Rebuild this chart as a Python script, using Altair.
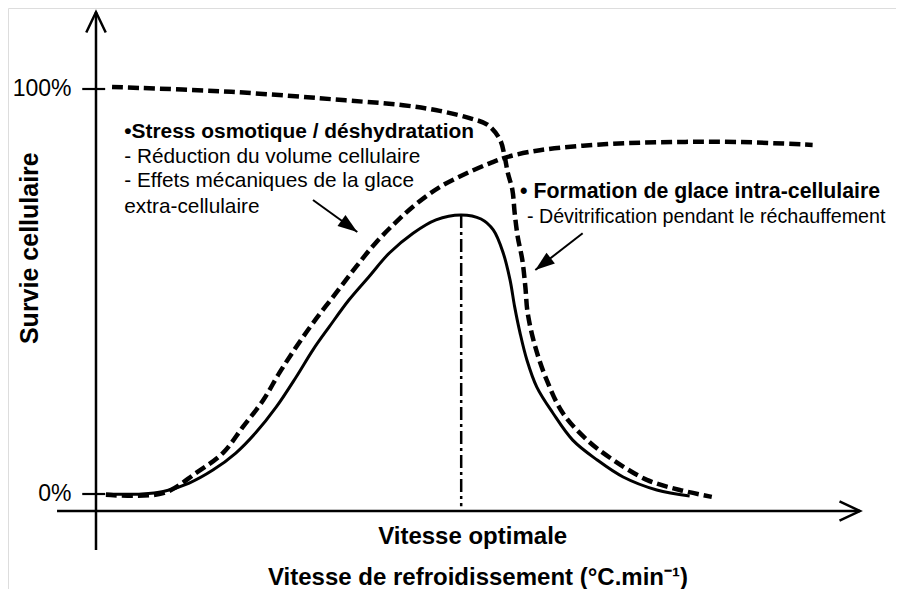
import math
import altair as alt
import pandas as pd

# ---- data (x: cooling rate, arbitrary units 0-100 ; y: cell survival %) ----
solid_x = [1.3, 6.0, 8.8, 12.2, 15.3, 18.3, 20.9, 23.6, 26.2, 28.4, 30.5, 33.1, 35.7, 38.4, 41.5,
           44.5, 47.8, 50.4, 52.0, 53.3, 54.2, 54.8, 55.5, 56.4, 57.7, 59.8, 62.4, 65.6, 69.0,
           73.4, 77.7]
solid_y = [0.0, 0.0, 0.6, 2.7, 5.9, 10.1, 15.1, 21.5, 28.9, 35.6, 41.2, 47.9, 53.6, 59.5, 64.4,
           67.7, 68.9, 67.9, 65.2, 59.5, 52.8, 46.2, 39.8, 33.1, 26.4, 20.0, 13.3, 8.4, 4.2,
           1.0, -0.5]

rise_x = [1.3, 8.8, 13.1, 16.6, 19.2, 21.9, 24.0, 26.2, 28.4, 31.4, 34.0, 36.6, 39.3, 41.9,
          45.0, 48.3, 51.6, 53.8, 58.1, 66.9, 75.5, 84.3, 93.8]
rise_y = [-0.2, 0.2, 5.2, 10.1, 16.5, 23.2, 29.9, 36.3, 42.2, 49.6, 56.0, 62.0, 67.2, 71.6,
          75.8, 79.0, 81.7, 83.2, 84.9, 86.4, 86.9, 86.9, 86.2]

fall_x = [2.1, 17.7, 32.7, 40.2, 45.0, 48.9, 51.3, 52.9, 53.5, 53.9, 54.5, 54.8, 55.2, 55.8,
          56.2, 56.5, 57.5, 59.0, 61.1, 64.3, 67.7, 72.1, 76.4, 80.6]
fall_y = [100.5, 99.3, 97.2, 96.0, 94.6, 92.8, 91.1, 87.4, 83.2, 79.3, 75.1, 69.4, 63.5, 57.8,
          51.1, 44.7, 36.3, 28.1, 20.0, 13.3, 8.4, 3.5, 1.0, -0.7]

optimal_x = 47.8
peak_y = 68.9

tick_values = [0, 100]
tick_labels = ["0%", "100%"]

y_title = "Survie cellulaire"
x_title = "Vitesse de refroidissement (°C.min⁻¹)"
optimal_label = "Vitesse optimale"

left_note = ["•Stress osmotique / déshydratation",
             "- Réduction du volume cellulaire",
             "- Effets mécaniques de la glace",
             "extra-cellulaire"]
right_note = ["• Formation de glace intra-cellulaire",
              "- Dévitrification pendant le réchauffement"]

# ---- layout ----
W, H = 888, 581
X_DOMAIN = [-11.518, 104.712]
Y_DOMAIN = [-23.457, 120.0]
PX_X = W / (X_DOMAIN[1] - X_DOMAIN[0])
PX_Y = H / (Y_DOMAIN[1] - Y_DOMAIN[0])
xs = alt.Scale(domain=X_DOMAIN, nice=False, zero=False)
ys = alt.Scale(domain=Y_DOMAIN, nice=False, zero=False)
FONT = "Liberation Sans, Arial, Helvetica, sans-serif"

X_AXIS_Y = -4.2
Y_AXIS_TOP = 119.0
Y_AXIS_BOTTOM = -13.8
X_AXIS_LEFT = -5.1
X_AXIS_RIGHT = 100.0


def enc():
    return dict(x=alt.X("x:Q", scale=xs, axis=None), y=alt.Y("y:Q", scale=ys, axis=None))


def curve(xv, yv, **kw):
    df = pd.DataFrame({"x": xv, "y": yv, "o": list(range(len(xv)))})
    return alt.Chart(df).mark_line(interpolate="catmull-rom", color="black", **kw).encode(
        order="o:Q", **enc())


def segs(rows, **kw):
    df = pd.DataFrame(rows, columns=["x", "y", "x2", "y2"])
    return alt.Chart(df).mark_rule(color="black", **kw).encode(
        x=alt.X("x:Q", scale=xs, axis=None), y=alt.Y("y:Q", scale=ys, axis=None),
        x2="x2:Q", y2="y2:Q")


def texts(rows, **kw):
    df = pd.DataFrame(rows, columns=["x", "y", "t"])
    return alt.Chart(df).mark_text(font=FONT, color="black", **kw).encode(
        text="t:N", **enc())


layers = []

# curves
layers.append(curve(solid_x, solid_y, strokeWidth=3))
layers.append(curve(rise_x, rise_y, strokeWidth=4.5, strokeDash=[11, 5]))
layers.append(curve(fall_x, fall_y, strokeWidth=4.5, strokeDash=[11, 5]))

# optimal dash-dot line
layers.append(segs([(optimal_x, peak_y, optimal_x, -3.0)], strokeWidth=2.5,
                   strokeDash=[13, 4, 3, 4]))

# axes
layers.append(segs([(0, Y_AXIS_BOTTOM, 0, Y_AXIS_TOP),
                    (X_AXIS_LEFT, X_AXIS_Y, X_AXIS_RIGHT, X_AXIS_Y)], strokeWidth=2.5))
layers.append(segs([(-1.8, v, 1.2, v) for v in tick_values], strokeWidth=2.2))

# axis arrowheads (open)
arrow_df = pd.DataFrame({"x": [0, X_AXIS_RIGHT], "y": [Y_AXIS_TOP, X_AXIS_Y], "a": [0, 90]})
layers.append(alt.Chart(arrow_df).mark_point(
    shape="M-0.95,2L0,0L0.95,2", size=420, filled=False, color="black", strokeWidth=2.5,
    opacity=1).encode(angle=alt.Angle("a:Q", scale=None), **enc()))

# tick labels
layers.append(texts([(-3.2, v, t) for v, t in zip(tick_values, tick_labels)],
                    fontSize=23, align="right", baseline="middle"))

# annotation arrows
notes_arrows = [((28.4, 72.6), (34.2, 64.7)), ((63.7, 64.4), (57.5, 55.3))]
layers.append(segs([(a[0], a[1], b[0], b[1]) for a, b in notes_arrows], strokeWidth=2))
heads = []
for a, b in notes_arrows:
    dxp = (b[0] - a[0]) * PX_X
    dyp = -(b[1] - a[1]) * PX_Y
    ang = math.degrees(math.atan2(dxp, -dyp)) % 360
    heads.append({"x": b[0], "y": b[1], "a": ang})
layers.append(alt.Chart(pd.DataFrame(heads)).mark_point(
    shape="M0,0L-0.7,2L0.7,2Z", size=380, filled=True, color="black", opacity=1).encode(
    angle=alt.Angle("a:Q", scale=None), **enc()))

# annotation texts
ly = [89.4, 83.2, 77.3, 70.9]
layers.append(texts([(3.7, ly[0], left_note[0])], fontSize=20.9, fontWeight="bold",
                    align="left", baseline="middle"))
layers.append(texts([(3.7, y, t) for y, t in zip(ly[1:], left_note[1:])], fontSize=20.8,
                    align="left", baseline="middle"))
layers.append(texts([(55.5, 74.6, right_note[0])], fontSize=21.3, fontWeight="bold",
                    align="left", baseline="middle"))
layers.append(texts([(56.4, 68.4, right_note[1])], fontSize=19.7,
                    align="left", baseline="middle"))

# titles
layers.append(texts([(49.3, -10.6, optimal_label)], fontSize=24, fontWeight="bold",
                    align="center", baseline="middle"))
layers.append(texts([(50.0, -22.4, x_title)], fontSize=24, fontWeight="bold",
                    align="center", baseline="alphabetic"))
layers.append(texts([(-8.6, 60.7, y_title)], fontSize=25, fontWeight="bold", angle=270,
                    align="center", baseline="middle"))

chart = alt.layer(*layers).properties(
    width=W, height=H, padding=0, autosize=alt.AutoSizeParams(type="none")
).configure_view(stroke=None).configure(background="white")

chart.save("out.html", embed_options={"renderer": "svg", "actions": False})
